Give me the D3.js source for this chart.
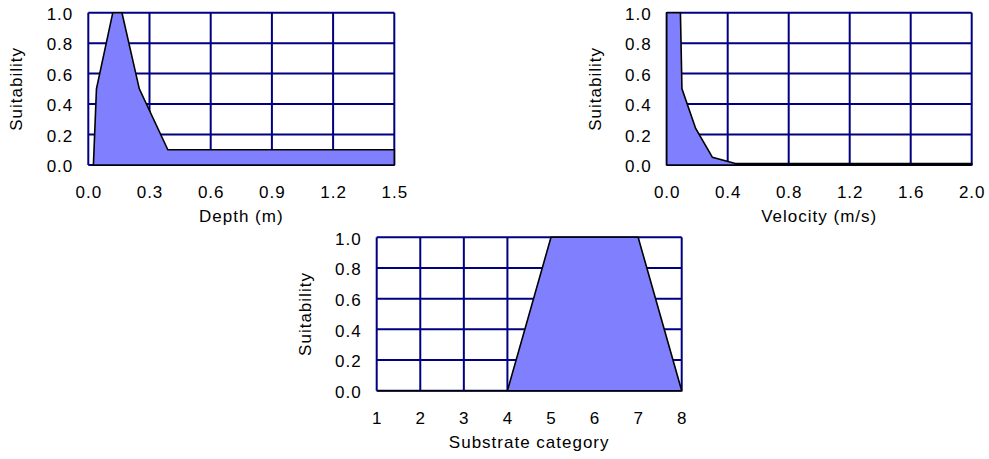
<!DOCTYPE html>
<html>
<head>
<meta charset="utf-8">
<script src="https://cdn.jsdelivr.net/npm/d3@7"></script>
<style>
  html, body { margin: 0; padding: 0; background: #ffffff; }
  svg { display: block; }
  text { font-family: "Liberation Sans", Arial, sans-serif; font-size: 17px; fill: #000; letter-spacing: 1px; }
</style>
</head>
<body>
<svg id="chart" width="989" height="459"></svg>
<script>
// ---------- data ----------
const depthX = [0.025, 0.04, 0.12, 0.165, 0.25, 0.39, 1.5];
const depthY = [0, 0.5, 1.0, 1.0, 0.5, 0.1, 0.1];
const depthTicks = [0, 0.3, 0.6, 0.9, 1.2, 1.5];

const velX = [0, 0, 0.09, 0.1, 0.19, 0.3, 0.45, 2.0];
const velY = [0, 1.0, 1.0, 0.5, 0.24, 0.05, 0.01, 0.01];
const velTicks = [0, 0.4, 0.8, 1.2, 1.6, 2.0];

const subX = [1, 4, 5, 7, 8];
const subY = [0, 0, 1.0, 1.0, 0];
const subTicks = [1, 2, 3, 4, 5, 6, 7, 8];

const suitTicks = [0, 0.2, 0.4, 0.6, 0.8, 1.0];

const panels = [
  { xs: depthX, ys: depthY, xTicks: depthTicks, xDomain: [0, 1.5], xFmt: ".1f", title: "Depth (m)",
    left: 88.3, right: 394.3, top: 12.7, bottom: 165 },
  { xs: velX, ys: velY, xTicks: velTicks, xDomain: [0, 2.0], xFmt: ".1f", title: "Velocity (m/s)",
    left: 666.7, right: 971.7, top: 12.7, bottom: 165 },
  { xs: subX, ys: subY, xTicks: subTicks, xDomain: [1, 8], xFmt: "d", title: "Substrate category",
    left: 376.7, right: 681.7, top: 237.3, bottom: 390.7 }
];

const svg = d3.select("#chart");
const gridColor = "#000080";
const fillColor = "#8080ff";

panels.forEach(p => {
  const x = d3.scaleLinear().domain(p.xDomain).range([p.left, p.right]);
  const y = d3.scaleLinear().domain([0, 1]).range([p.bottom, p.top]);
  const g = svg.append("g");

  // grid
  g.selectAll("line.v").data(p.xTicks).join("line")
    .attr("x1", d => x(d)).attr("x2", d => x(d))
    .attr("y1", p.top).attr("y2", p.bottom)
    .attr("stroke", gridColor).attr("stroke-width", 2);
  g.selectAll("line.h").data(suitTicks).join("line")
    .attr("y1", d => y(d)).attr("y2", d => y(d))
    .attr("x1", p.left).attr("x2", p.right)
    .attr("stroke", gridColor).attr("stroke-width", 2);

  // area
  const pts = p.xs.map((v, i) => [v, p.ys[i]]);
  const area = d3.area().x(d => x(d[0])).y0(y(0)).y1(d => y(d[1]));
  g.append("path").datum(pts)
    .attr("d", area(pts) + "Z")
    .attr("fill", fillColor)
    .attr("stroke", "#000").attr("stroke-width", 1.6)
    .attr("stroke-linejoin", "miter");

  // x axis
  const xa = g.append("g").attr("transform", `translate(0,${p.bottom})`)
    .call(d3.axisBottom(x).tickValues(p.xTicks).tickFormat(d3.format(p.xFmt)).tickSize(0));
  xa.select(".domain").remove();
  xa.selectAll("text").attr("y", 33).attr("dy", 0)
    .style("font-size", "17px").style("font-family", "'Liberation Sans', Arial, sans-serif").attr("fill", "#000");

  // y axis
  const ya = g.append("g").attr("transform", `translate(${p.left},0)`)
    .call(d3.axisLeft(y).tickValues(suitTicks).tickFormat(d3.format(".1f")).tickSize(0));
  ya.select(".domain").remove();
  ya.selectAll("text").attr("x", -15).attr("dy", "0.4em")
    .style("font-size", "17px").style("font-family", "'Liberation Sans', Arial, sans-serif").attr("fill", "#000");

  // titles
  g.append("text")
    .attr("x", (p.left + p.right) / 2).attr("y", p.bottom + 57)
    .attr("text-anchor", "middle").text(p.title);
  g.append("text")
    .attr("transform", `translate(${p.left - 66},${(p.top + p.bottom) / 2}) rotate(-90)`)
    .attr("text-anchor", "middle").text("Suitability");
});
</script>
</body>
</html>
